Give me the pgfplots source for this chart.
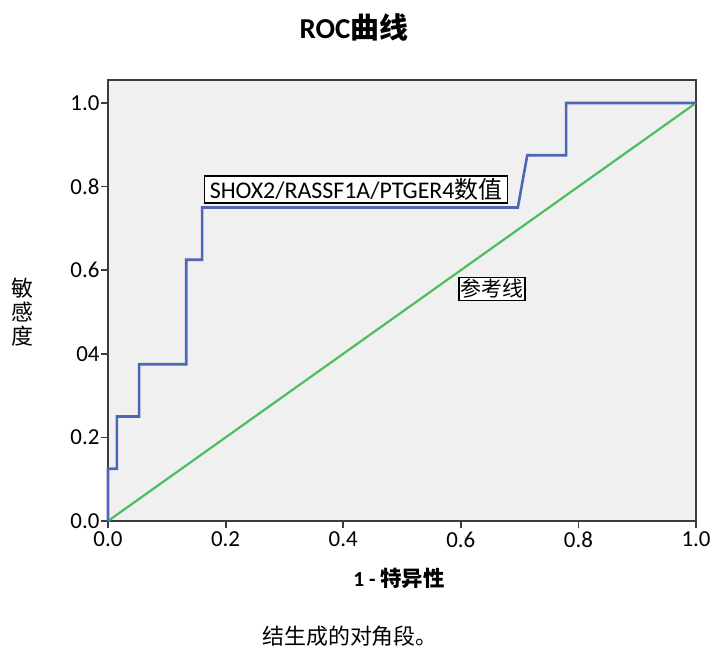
\documentclass[border=0pt]{standalone}
\usepackage{pgfplots}
\pgfplotsset{compat=1.18}
\usepackage{fontspec}
\setmainfont{Carlito}
\newfontfamily\cjk{Noto Sans CJK SC}
\definecolor{rocblue}{HTML}{4E66B8}
\definecolor{refgreen}{HTML}{4CBF5A}
\definecolor{framegray}{HTML}{3C3C3C}
\definecolor{bggray}{HTML}{F0F0F0}
\begin{document}
\begin{tikzpicture}
\useasboundingbox (0,0) rectangle (711bp,-648bp);
\node[font=\fontsize{29}{29}\selectfont\bfseries] at (354bp,-27bp) {ROC{\cjk 曲线}};
\begin{axis}[
  at={(108bp,-521bp)}, anchor=south west,
  scale only axis, width=588bp, height=441bp,
  xmin=0, xmax=1.0, ymin=0, ymax=1.055,
  axis background/.style={fill=bggray},
  axis line style={framegray, line width=2.4bp},
  xtick={0,0.2,0.4,0.6,0.8,1.0},
  xticklabels={0.0,0.2,0.4,0.6,0.8,1.0},
  ytick={0,0.2,0.4,0.6,0.8,1.0},
  yticklabels={0.0,0.2,04,0.6,0.8,1.0},
  xtick pos=bottom, ytick pos=left,
  tick align=outside, major tick length=7bp,
  tick style={framegray, line width=1.8bp},
  tick label style={font=\fontsize{23}{23}\selectfont},
  yticklabel style={xshift=2bp},
  clip=false,
]
\addplot[refgreen, line width=2.2bp] coordinates {(0,0) (1,1)};
\addplot[rocblue, line width=2.6bp] coordinates {
(0,0) (0,0.125) (0.015,0.125) (0.015,0.25) (0.053,0.25) (0.053,0.375)
(0.133,0.375) (0.133,0.625) (0.16,0.625) (0.16,0.75) (0.697,0.75)
(0.713,0.875) (0.779,0.875) (0.779,1) (1,1)};
\node[draw=black, fill=white, line width=1.3bp, inner xsep=5bp, inner ysep=2.5bp,
  font=\fontsize{24}{24}\selectfont] at (axis cs:0.422,0.793) {SHOX2/RASSF1A/PTGER4{\cjk 数值}};
\node[draw=black, fill=white, line width=1.3bp, inner sep=1.5bp,
  font=\fontsize{21}{21}\selectfont\cjk] at (axis cs:0.653,0.555) {参考线};
\end{axis}
\node[font=\fontsize{21.5}{21.5}\selectfont\bfseries] at (399bp,-578bp) {1 - {\cjk 特异性}};
\node[font=\fontsize{22}{24}\selectfont\cjk, align=center] at (22bp,-312bp) {敏\\感\\度};
\node[font=\fontsize{22}{22}\selectfont\cjk] at (350bp,-636bp) {结生成的对角段。};
\end{tikzpicture}
\end{document}
